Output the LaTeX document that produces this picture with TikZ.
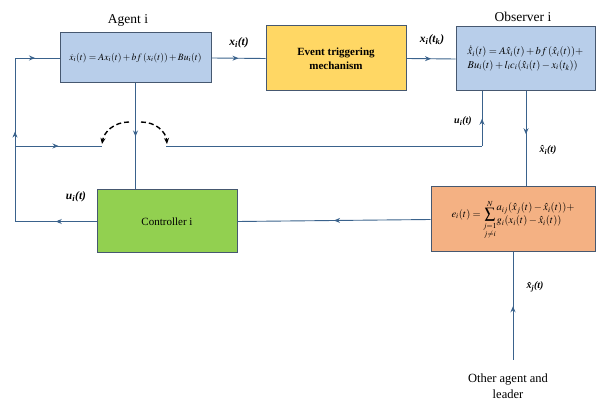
\documentclass[tikz,border=0pt]{standalone}
\usepackage{amsmath}
\usepackage{mathptmx}
\usepackage{fontspec}
\setmainfont{Liberation Serif}
\usetikzlibrary{decorations.markings,arrows.meta}
\definecolor{boxborder}{RGB}{70,88,112}
\definecolor{linecol}{RGB}{58,98,140}
\definecolor{bluefill}{RGB}{184,206,234}
\definecolor{yellowfill}{RGB}{255,215,100}
\definecolor{greenfill}{RGB}{146,208,80}
\definecolor{orangefill}{RGB}{244,177,131}
\tikzset{
  blk/.style={draw=boxborder, line width=1pt, inner sep=2pt, align=center},
  conn/.style={draw=linecol, line width=0.9pt},
  midarr/.style={postaction={decorate}, decoration={markings, mark=at position #1 with {\arrow{Stealth[length=6pt,width=5pt]}}}},
  lbl/.style={font=\rmfamily\fontsize{11.5}{13}\selectfont\bfseries\itshape, inner sep=1pt},
  slbl/.style={font=\rmfamily\fontsize{10}{12}\selectfont\bfseries\itshape, inner sep=1pt},
  title/.style={font=\rmfamily\fontsize{13.5}{15}\selectfont, inner sep=1pt},
  eqn/.style={font=\rmfamily\fontsize{10.5}{12.5}\selectfont}
}
\begin{document}
\begin{tikzpicture}[x=1pt,y=-1pt]
\useasboundingbox (0,0) rectangle (608,403);
% blocks
\node[blk, fill=bluefill, minimum width=151pt, minimum height=50pt, eqn, font=\rmfamily\fontsize{9.6}{12}\selectfont] (ag) at (135.5,58)
  {$\dot{x}_i(t)=Ax_i(t)+bf\,(x_i(t))+Bu_i(t)$};
\node[blk, fill=yellowfill, minimum width=140pt, minimum height=65pt, font=\rmfamily\fontsize{11}{13.5}\selectfont\bfseries] (ev) at (336,58.5)
  {Event triggering\\mechanism};
\node[blk, fill=bluefill, minimum width=139pt, minimum height=64pt, eqn] (ob) at (525.5,59)
  {$\begin{array}{@{}l@{}}\dot{\hat{x}}_i(t)=A\hat{x}_i(t)+bf\,(\hat{x}_i(t))+\\[1pt] Bu_i(t)+l_ic_i(\hat{x}_i(t)-x_i(t_k))\end{array}$};
\node[blk, fill=orangefill, minimum width=164pt, minimum height=65pt, eqn, font=\rmfamily\fontsize{10.5}{12}\selectfont] (eb) at (513,219.5)
  {$\displaystyle e_i(t)=\sum_{\substack{j=1\\ j\neq i}}^{N}\!\begin{array}{@{}l@{}}a_{ij}(\hat{x}_j(t)-\hat{x}_i(t))+\\[1pt] g_i(x_i(t)-\hat{x}_i(t))\end{array}$};
\node[blk, fill=greenfill, minimum width=140pt, minimum height=63pt, font=\rmfamily\fontsize{11}{13}\selectfont] (ct) at (167,221.5)
  {Controller i};
% titles
\node[title] (tag) at (128,20) {Agent i};
\node[title] (tob) at (523,17) {Observer i};
% coordinates
\coordinate (lc) at (15,221.5);
\coordinate (lt) at (15,58);
\coordinate (lm) at (15,146);
\coordinate (sw1) at (102,146);
\coordinate (sw2) at (166,146);
\coordinate (uc) at (482,146);
\coordinate (oth) at (513,360);
% connectors
\draw[conn, midarr=0.5] (ag.east) -- (ev.west);
\draw[conn, midarr=0.5] (ev.east) -- (ob.west);
\draw[conn, midarr=0.45] (ob.south -| 526,0) -- (eb.north -| 526,0);
\draw[conn] (sw2) -- (uc);
\draw[conn, midarr=0.5] (uc) -- (ob.south -| uc);
\draw[conn, midarr=0.5] (ag.south) -- (ag.south |- ct.north);
\draw[conn, midarr=0.5] (ct.west) -- (lc);
\draw[conn, midarr=0.55] (lc) -- (lt);
\draw[conn, midarr=0.45] (lt) -- (ag.west);
\draw[conn, midarr=0.5] (lm) -- (sw1);
\draw[conn, midarr=0.5] (eb.west) -- (ct.east);
\draw[conn, midarr=0.5] (oth) -- (eb.south);
% switch arcs
\coordinate (al) at (129,122);
\coordinate (ar) at (141,122);
\draw[black, line width=1.4pt, dash pattern=on 5pt off 3pt, -{Stealth[length=6pt,width=5pt]}] (al) .. controls (114,122) and (104,132) .. (102,144);
\draw[black, line width=1.4pt, dash pattern=on 5pt off 3pt, -{Stealth[length=6pt,width=5pt]}] (ar) .. controls (156,122) and (166,132) .. (167,144);
% labels
\node[lbl] (l1) at (239,43) {x\textsubscript{i}(t)};
\node[lbl] (l2) at (432,40) {x\textsubscript{i}(t\textsubscript{k})};
\node[slbl] (l3) at (463,121) {u\textsubscript{i}(t)};
\node[slbl] (l4) at (548,150) {\^{x}\textsubscript{i}(t)};
\node[lbl] (l5) at (76,197) {u\textsubscript{i}(t)};
\node[slbl] (l6) at (535,287) {\^{x}\textsubscript{j}(t)};
\node[font=\rmfamily\fontsize{12.5}{16}\selectfont, align=center] (other) at (508,386) {Other agent and\\leader};
\end{tikzpicture}
\end{document}
